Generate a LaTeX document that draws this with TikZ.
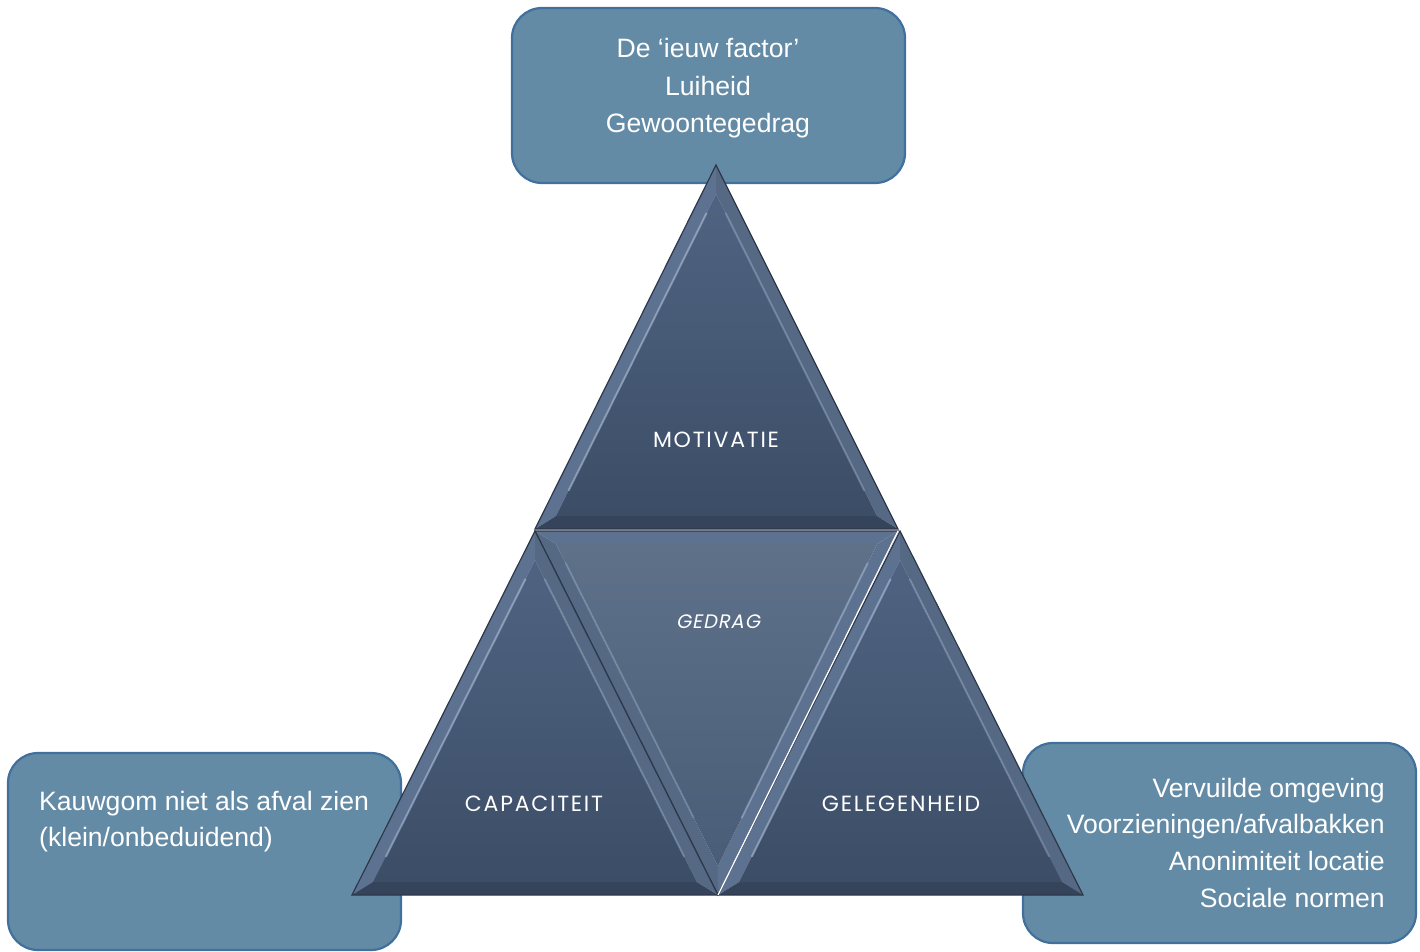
\documentclass[tikz,border=0pt]{standalone}
\usepackage{fontspec}
\setmainfont{Liberation Sans}
\newfontfamily\geo[LetterSpace=8]{Poppins}
\newfontfamily\geoit[LetterSpace=5,FakeSlant=0.2]{Poppins}
\usetikzlibrary{calc}

\definecolor{boxfill}{HTML}{648BA5}
\definecolor{boxline}{HTML}{41709C}
\definecolor{triedge}{HTML}{2C384A}
\definecolor{bandL}{HTML}{5D7190}
\definecolor{bandR}{HTML}{566984}
\definecolor{bandB}{HTML}{35445A}
\definecolor{tritop}{HTML}{4F6482}
\definecolor{tribot}{HTML}{3C4D66}
\definecolor{midtop}{HTML}{5E7189}
\definecolor{midbot}{HTML}{4A5D78}
\definecolor{hilite}{HTML}{A9BDD6}

\tikzset{
  infobox/.style={draw=boxline, fill=boxfill, line width=2.2pt, rounded corners=30pt,
    inner sep=0pt},
  boxtext/.style={text=white, font=\fontsize{26.6}{30}\selectfont, inner sep=0pt, anchor=base},
  trilabel/.style={text=white, font=\geo\fontsize{22}{26}\selectfont, inner sep=0pt, anchor=base},
  gedraglabel/.style={text=white, font=\geoit\fontsize{19.5}{22}\selectfont, inner sep=0pt, anchor=base},
  triline/.style={draw=triedge, line width=1.2pt, line join=miter},
  hl/.style={draw=hilite, line width=2pt, opacity=0.6, line cap=round},
}

% upright bevelled triangle: apex #1, bottom-left #2, bottom-right #3, incenter #4
\newcommand\uptri[6]{%
  \coordinate (#1i) at ($(#4)!0.885!(#1)$);
  \coordinate (#2i) at ($(#4)!0.885!(#2)$);
  \coordinate (#3i) at ($(#4)!0.885!(#3)$);
  \fill[bandL] (#1)--(#2)--(#2i)--(#1i)--cycle;
  \fill[bandR] (#1)--(#3)--(#3i)--(#1i)--cycle;
  \fill[bandB] (#2)--(#3)--(#3i)--(#2i)--cycle;
  \shade[top color=#5, bottom color=#6] (#1i)--(#2i)--(#3i)--cycle;
  \draw[hl] ($(#1i)!0.06!(#2i)$) -- ($(#1i)!0.92!(#2i)$);
  \draw[hl, opacity=0.35] ($(#1i)!0.06!(#3i)$) -- ($(#1i)!0.92!(#3i)$);
  \draw[triline] (#1)--(#2)--(#3)--cycle;
}

\begin{document}
\begin{tikzpicture}[x=1pt,y=-1pt]
\useasboundingbox (0,0) rectangle (1420,951);

% info boxes
\node[infobox, minimum width=393pt, minimum height=175pt] (topbox) at (708.5,95.5) {};
\node[infobox, minimum width=393pt, minimum height=197pt] (leftbox) at (204.5,851.5) {};
\node[infobox, minimum width=393pt, minimum height=200pt] (rightbox) at (1219.5,843) {};

% triangle vertices
\coordinate (mA) at (716,165);
\coordinate (mB) at (535,529);
\coordinate (mC) at (898,529);
\coordinate (mI) at (716.5,416.7);

\coordinate (cA) at (535,531);
\coordinate (cB) at (352,895);
\coordinate (cC) at (718,895);
\coordinate (cI) at (535,782.7);

\coordinate (gA) at (900,531);
\coordinate (gB) at (718,895);
\coordinate (gC) at (1083,895);
\coordinate (gI) at (900.5,782.7);

\coordinate (dL) at (535,531);
\coordinate (dR) at (898,531);
\coordinate (dV) at (718,895);
\coordinate (dI) at (717,643.3);

% motivatie
\uptri{mA}{mB}{mC}{mI}{tritop}{tribot}

% gedrag (inverted)
\coordinate (dLi) at ($(dI)!0.885!(dL)$);
\coordinate (dRi) at ($(dI)!0.885!(dR)$);
\coordinate (dVi) at ($(dI)!0.885!(dV)$);
\fill[bandL] (dL)--(dR)--(dRi)--(dLi)--cycle;
\fill[bandR] (dL)--(dV)--(dVi)--(dLi)--cycle;
\fill[bandL] (dR)--(dV)--(dVi)--(dRi)--cycle;
\shade[top color=midtop, bottom color=midbot] (dLi)--(dRi)--(dVi)--cycle;
\draw[hl, opacity=0.5] ($(dRi)!0.06!(dVi)$) -- ($(dRi)!0.85!(dVi)$);
\draw[hl, opacity=0.3] ($(dLi)!0.06!(dVi)$) -- ($(dLi)!0.85!(dVi)$);
\draw[triline] (dL)--(dR)--(dV)--cycle;

% capaciteit, gelegenheid
\uptri{cA}{cB}{cC}{cI}{tritop}{tribot}
\uptri{gA}{gB}{gC}{gI}{tritop}{tribot}

% white seam between gedrag and gelegenheid
\draw[white, line width=1.3pt] (dR) -- (dV);

% triangle labels
\node[trilabel] (lmot) at (716,447) {MOTIVATIE};
\node[gedraglabel] (lged) at (718,628) {GEDRAG};
\node[trilabel] (lcap) at (534,811) {CAPACITEIT};
\node[trilabel] (lgel) at (901,811) {GELEGENHEID};

% box texts
\node[boxtext] (t1) at (708,57) {De ‘ieuw factor’};
\node[boxtext] (t2) at (708,95) {Luiheid};
\node[boxtext] (t3) at (708,132) {Gewoontegedrag};

\node[boxtext, anchor=base west] (l1) at (39,810) {Kauwgom niet als afval zien};
\node[boxtext, anchor=base west] (l2) at (39,846) {(klein/onbeduidend)};

\node[boxtext, anchor=base east] (r1) at (1385,797) {Vervuilde omgeving};
\node[boxtext, anchor=base east] (r2) at (1385,833) {Voorzieningen/afvalbakken};
\node[boxtext, anchor=base east] (r3) at (1385,870) {Anonimiteit locatie};
\node[boxtext, anchor=base east] (r4) at (1385,907) {Sociale normen};
\end{tikzpicture}
\end{document}
